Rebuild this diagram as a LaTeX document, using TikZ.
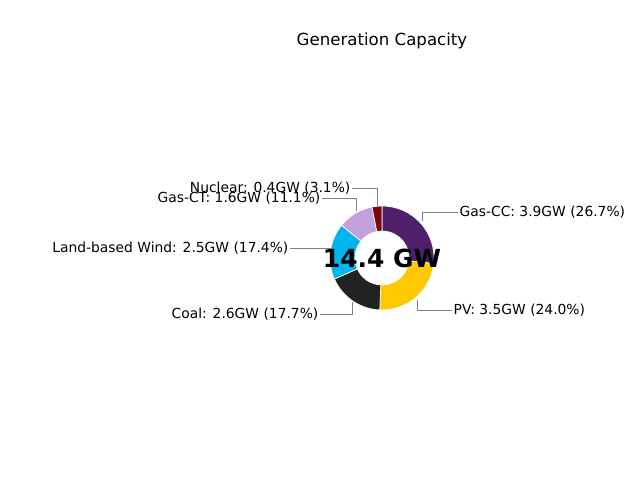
\documentclass[tikz,border=0pt]{standalone}
\usepackage{fontspec}
\setmainfont{DejaVu Sans}
\usetikzlibrary{calc}
\begin{document}
\begin{tikzpicture}[x=0.01in,y=-0.01in,
  lab/.style={font=\fontsize{10}{12}\selectfont, inner sep=1pt},
  lead/.style={draw=gray, thin}]
\useasboundingbox (0,0) rectangle (640,480);
\definecolor{gascc}{HTML}{4F1F6B}
\definecolor{pv}{HTML}{FFC800}
\definecolor{coal}{HTML}{222222}
\definecolor{wind}{HTML}{00B4EE}
\definecolor{gasct}{HTML}{C3A1DC}
\definecolor{nuke}{HTML}{7A0A0A}
\coordinate (c) at (382,258);
% slices: start angle, end angle (math angles, y flipped)
\foreach \a/\b/\col in {-90/6.1/gascc, 6.1/92.5/pv, 92.5/156.2/coal,
    156.2/218.9/wind, 218.9/258.9/gasct, 258.9/270/nuke}{
  \fill[\col, draw=white, line width=0.5pt] ($(c)+(\a:52)$) arc[start angle=\a, end angle=\b, radius=52]
    -- ($(c)+(\b:27)$) arc[start angle=\b, end angle=\a, radius=27] -- cycle;
}
\node[font=\fontsize{18}{20}\selectfont\bfseries] (tot) at (c) {14.4 GW};
\node[font=\fontsize{12}{14}\selectfont] (title) at (382,41) {Generation Capacity};
% labels
\node[lab, anchor=west] (gcc) at (458,212) {Gas-CC: 3.9GW (26.7\%)};
\node[lab, anchor=west] (pvl) at (452,310) {PV: 3.5GW (24.0\%)};
\node[lab, anchor=east] (coall) at (320,314) {Coal: 2.6GW (17.7\%)};
\node[lab, anchor=east] (windl) at (290,248) {Land-based Wind: 2.5GW (17.4\%)};
\node[lab, anchor=east] (gctl) at (322,198) {Gas-CT: 1.6GW (11.1\%)};
\node[lab, anchor=east] (nukel) at (352,188) {Nuclear: 0.4GW (3.1\%)};
\coordinate (pgcc) at (422,221);
\coordinate (ppv) at (417,300);
\coordinate (pcoal) at (352,302);
\coordinate (pwind) at (331,248);
\coordinate (pgct) at (356,211);
\coordinate (pnuke) at (377,206);
\draw[lead] (pgcc) |- (gcc.west);
\draw[lead] (ppv) |- (pvl.west);
\draw[lead] (pcoal) |- (coall.east);
\draw[lead] (pwind) -- (windl.east);
\draw[lead] (pgct) |- (gctl.east);
\draw[lead] (pnuke) |- (nukel.east);
\end{tikzpicture}
\end{document}
